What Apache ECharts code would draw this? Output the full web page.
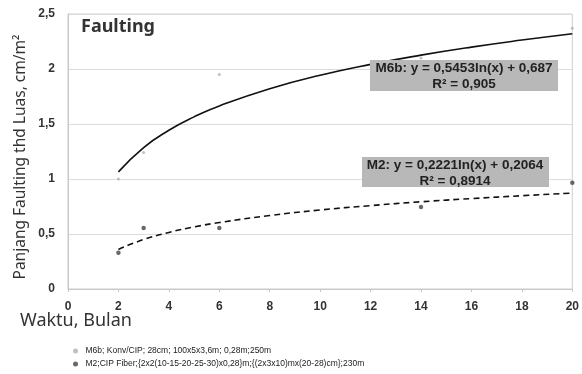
<!DOCTYPE html>
<html><head><meta charset="utf-8">
<script src="https://cdn.jsdelivr.net/npm/echarts@6/dist/echarts.min.js"></script>
<style>html,body{margin:0;padding:0;background:#fff}#c{width:582px;height:374px}</style>
</head><body><div id="c"></div>
<script>
// Observed points
const monthsM6b = [2, 3, 6, 14, 20];
const valuesM6b = [1.0, 1.24, 1.95, 2.1, 2.37];
const monthsM2 = [2, 3, 6, 14, 20];
const valuesM2 = [0.33, 0.555, 0.555, 0.745, 0.965];
// Trend curves
const trendX = [2, 3, 4, 5, 6, 8, 10, 12, 14, 16, 18, 20];
const trendM6b = [1.065, 1.286, 1.443, 1.565, 1.664, 1.821, 1.943, 2.042, 2.126, 2.199, 2.263, 2.321];
const trendM2 = [0.360, 0.450, 0.514, 0.564, 0.604, 0.668, 0.718, 0.758, 0.793, 0.822, 0.848, 0.872];
const yTicks = ['0', '0,5', '1', '1,5', '2', '2,5'];
const nameM6b = 'M6b; Konv/CIP; 28cm; 100x5x3,6m; 0,28m;250m';
const nameM2 = 'M2;CIP Fiber;{2x2(10-15-20-25-30)x0,28}m;{(2x3x10)mx(20-28)cm};230m';

const zip = (a, b) => a.map((v, i) => [v, b[i]]);
const chart = echarts.init(document.getElementById('c'));
chart.setOption({
  animation: false,
  grid: {left: 68, right: 9, top: 14, bottom: 85, show: true, borderColor: '#cfcfcf', borderWidth: 1},
  xAxis: {
    type: 'value', min: 0, max: 20, interval: 2,
    axisLine: {show: true, lineStyle: {color: '#c8c8c8'}},
    axisTick: {show: true, length: 3, lineStyle: {color: '#c8c8c8'}},
    splitLine: {show: false},
    axisLabel: {margin: 12, fontSize: 12, fontWeight: 'bold', color: '#333', fontFamily: 'Liberation Sans'}
  },
  yAxis: {
    type: 'value', min: 0, max: 2.5, interval: 0.5,
    axisLine: {show: true, lineStyle: {color: '#c8c8c8'}},
    axisTick: {show: false},
    splitLine: {show: true, lineStyle: {color: '#dcdcdc', width: 1}},
    axisLabel: {margin: 13, fontSize: 12, fontWeight: 'bold', color: '#333', fontFamily: 'Liberation Sans',
      formatter: v => yTicks[Math.round(v * 2)]}
  },
  legend: {
    orient: 'vertical', left: 73, top: 346, padding: 0, itemGap: 3, itemWidth: 8, itemHeight: 5,
    data: [nameM6b, nameM2],
    textStyle: {fontSize: 8.5, lineHeight: 10, color: '#222', fontFamily: 'Liberation Sans', padding: [0, 0, 0, 1]}
  },
  series: [
    {type: 'line', data: zip(trendX, trendM6b), smooth: true, symbol: 'none',
      lineStyle: {color: '#111', width: 1.6}, z: 2, silent: true},
    {type: 'line', data: zip(trendX, trendM2), smooth: true, symbol: 'none',
      lineStyle: {color: '#111', width: 1.6, type: [6, 4]}, z: 2, silent: true},
    {name: nameM6b, type: 'scatter', data: zip(monthsM6b, valuesM6b), symbolSize: 3,
      itemStyle: {color: '#b0b0b0'}, z: 3},
    {name: nameM2, type: 'scatter', data: zip(monthsM2, valuesM2), symbolSize: 4.5,
      itemStyle: {color: '#444'}, z: 3}
  ],
  graphic: [
    {type: 'text', left: 81, top: 18, style: {text: 'Faulting', fontSize: 18, fontWeight: 'bold', fill: '#333', fontFamily: 'Noto Sans'}},
    {type: 'text', left: 20, top: 312, style: {text: 'Waktu, Bulan', fontSize: 18, fill: '#333', fontFamily: 'Noto Sans'}},
    {type: 'text', x: 21, y: 157, rotation: Math.PI / 2, style: {text: 'Panjang Faulting thd Luas, cm/m²', align: 'center', verticalAlign: 'middle', fontSize: 15.5, fill: '#333', fontFamily: 'Noto Sans'}},
    {type: 'rect', shape: {x: 370, y: 60, width: 188, height: 31}, style: {fill: '#b8b8b8'}, z: 10},
    {type: 'text', x: 464, y: 60, z: 11, style: {text: 'M6b: y = 0,5453ln(x) + 0,687\nR² = 0,905', align: 'center', fontSize: 13.5, lineHeight: 16, fontWeight: 'bold', fill: '#222', fontFamily: 'Liberation Sans'}},
    {type: 'rect', shape: {x: 362, y: 157, width: 187, height: 30}, style: {fill: '#b8b8b8'}, z: 10},
    {type: 'text', x: 455, y: 157, z: 11, style: {text: 'M2: y = 0,2221ln(x) + 0,2064\nR² = 0,8914', align: 'center', fontSize: 13.5, lineHeight: 16, fontWeight: 'bold', fill: '#222', fontFamily: 'Liberation Sans'}}
  ]
});
</script></body></html>
